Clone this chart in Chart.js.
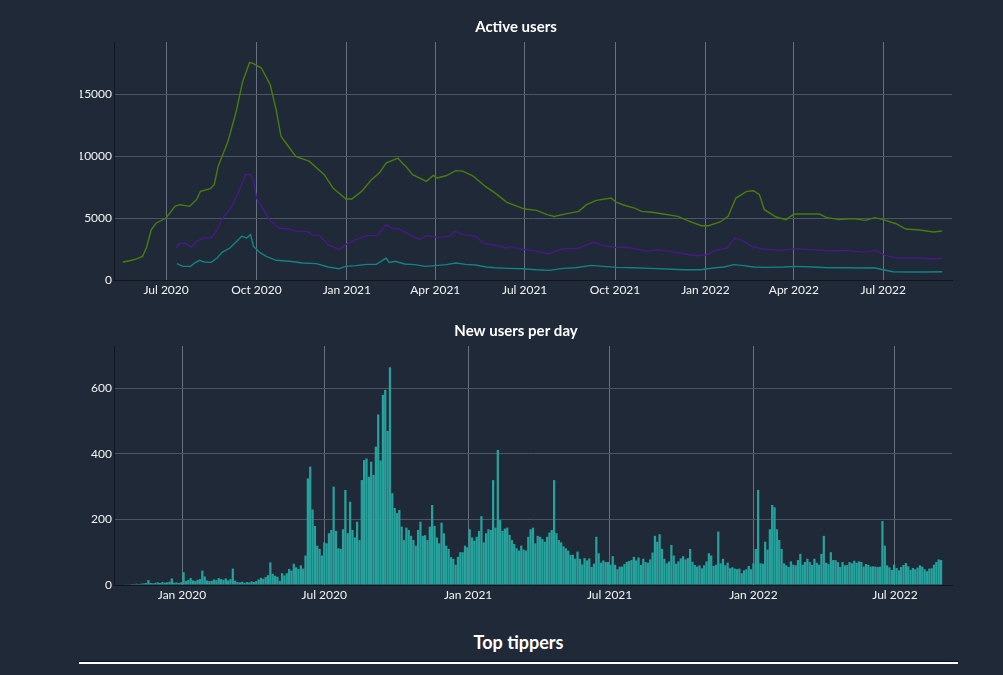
<!DOCTYPE html>
<html>
<head>
<meta charset="utf-8">
<title>Community stats</title>
<script src="https://cdn.jsdelivr.net/npm/chart.js@4.4.1/dist/chart.umd.min.js"></script>
<style>
  html, body {
    margin: 0;
    padding: 0;
    width: 1003px;
    height: 675px;
    overflow: hidden;
    background: #1f2937;
    font-family: Lato, sans-serif;
  }
  .chart-box {
    position: absolute;
    left: 0;
    width: 1003px;
  }
  #activeBox { top: 0; height: 306px; }
  #newBox { top: 304px; height: 307px; }
  #tippersTitle {
    position: absolute;
    top: 630px;
    left: 79px;
    width: 879px;
    text-align: center;
    color: #ffffff;
    font-weight: bold;
    font-size: 18px;
    line-height: 24px;
  }
  #tippersRule {
    position: absolute;
    top: 661px;
    left: 79px;
    width: 879px;
    height: 2px;
    background: #ffffff;
    border-top: 1px solid #0b1020;
  }
</style>
</head>
<body>
<div class="chart-box" id="activeBox"><canvas id="activeChart"></canvas></div>
<div class="chart-box" id="newBox"><canvas id="newChart"></canvas></div>
<div id="tippersTitle">Top tippers</div>
<div id="tippersRule"></div>

<script>
// ---- Active users (three series) ----
const monthlyDates = [
  "2020-05-18", "2020-05-25", "2020-06-01", "2020-06-07", "2020-06-11", "2020-06-16", "2020-06-21",
  "2020-07-01", "2020-07-10", "2020-07-15", "2020-07-25", "2020-08-01", "2020-08-05", "2020-08-15",
  "2020-08-19", "2020-08-23", "2020-09-02", "2020-09-10", "2020-09-17", "2020-09-24", "2020-09-28",
  "2020-10-06", "2020-10-15", "2020-10-21", "2020-10-26", "2020-10-31", "2020-11-10", "2020-11-24",
  "2020-12-09", "2020-12-18", "2020-12-31", "2021-01-06", "2021-01-16", "2021-01-26", "2021-02-03",
  "2021-02-10", "2021-02-22", "2021-02-27", "2021-03-02", "2021-03-09", "2021-03-23", "2021-03-30",
  "2021-04-03", "2021-04-12", "2021-04-22", "2021-04-29", "2021-05-10", "2021-05-22", "2021-05-31",
  "2021-06-13", "2021-07-01", "2021-07-13", "2021-07-24", "2021-07-31", "2021-08-13", "2021-08-25",
  "2021-09-02", "2021-09-12", "2021-09-27", "2021-10-02", "2021-10-12", "2021-10-21", "2021-10-28",
  "2021-11-08", "2021-11-19", "2021-12-04", "2021-12-16", "2021-12-28", "2022-01-04", "2022-01-16",
  "2022-01-24", "2022-02-01", "2022-02-12", "2022-02-19", "2022-02-25", "2022-03-02", "2022-03-14",
  "2022-03-24", "2022-04-01", "2022-04-13", "2022-04-27", "2022-05-04", "2022-05-17", "2022-05-31",
  "2022-06-13", "2022-06-22", "2022-07-01", "2022-07-14", "2022-07-24", "2022-08-07", "2022-08-21",
  "2022-08-30"
];
const monthlyActive = [
  1450, 1550, 1700, 1900, 2600, 4060, 4600,
  5000, 5940, 6075, 5940, 6480, 7150, 7365,
  7690, 9170, 11180, 13470, 16020, 17550, 17450,
  17100, 15750, 13740, 11590, 11050, 9970, 9570,
  8500, 7420, 6530, 6530, 7150, 8090, 8630,
  9430, 9840, 9380, 9170, 8500, 7960, 8440,
  8230, 8410, 8820, 8780, 8360, 7550, 7070,
  6260, 5725, 5620, 5270, 5130, 5350, 5540,
  6075, 6425, 6610, 6290, 5990, 5800, 5540,
  5460, 5320, 5130, 4730, 4380, 4380, 4680,
  5130, 6610, 7150, 7200, 6880, 5670, 5080,
  4870, 5320, 5320, 5320, 5050, 4870, 4950,
  4810, 5030, 4870, 4540, 4110, 4030, 3870,
  3950
];

const weeklyDates = [
  "2020-07-11", "2020-07-15", "2020-07-20", "2020-07-27", "2020-08-01", "2020-08-08", "2020-08-16",
  "2020-08-22", "2020-08-27", "2020-09-06", "2020-09-13", "2020-09-20", "2020-09-25", "2020-09-28",
  "2020-10-01", "2020-10-08", "2020-10-14", "2020-10-24", "2020-11-04", "2020-11-10", "2020-11-21",
  "2020-11-27", "2020-12-04", "2020-12-13", "2020-12-24", "2020-12-31", "2021-01-10", "2021-01-21",
  "2021-02-01", "2021-02-10", "2021-02-16", "2021-02-22", "2021-03-03", "2021-03-16", "2021-03-23",
  "2021-04-05", "2021-04-15", "2021-04-21", "2021-04-30", "2021-05-12", "2021-05-20", "2021-06-01",
  "2021-06-13", "2021-06-18", "2021-06-25", "2021-07-09", "2021-07-25", "2021-08-09", "2021-08-25",
  "2021-09-09", "2021-09-19", "2021-10-03", "2021-10-10", "2021-10-20", "2021-11-01", "2021-11-13",
  "2021-11-26", "2021-12-10", "2021-12-23", "2022-01-02", "2022-01-12", "2022-01-23", "2022-01-31",
  "2022-02-07", "2022-02-17", "2022-03-01", "2022-03-18", "2022-04-03", "2022-04-20", "2022-05-07",
  "2022-05-24", "2022-06-13", "2022-06-23", "2022-07-02", "2022-07-14", "2022-07-27", "2022-08-10",
  "2022-08-20", "2022-08-30"
];
const weeklyActive = [
  2580, 2930, 2980, 2660, 3120, 3390, 3390,
  4060, 4920, 5940, 7150, 8500, 8500, 8090,
  6610, 5670, 4870, 4190, 4110, 3920, 3920,
  3660, 3580, 2850, 2450, 2850, 3250, 3580,
  3600, 4460, 4190, 4140, 3790, 3250, 3580,
  3440, 3520, 3920, 3660, 3520, 2980, 2800,
  2580, 2710, 2500, 2390, 2120, 2500, 2550,
  3060, 2770, 2610, 2660, 2550, 2310, 2450,
  2310, 2120, 1960, 2040, 2390, 2580, 3390,
  3200, 2710, 2500, 2390, 2530, 2450, 2340,
  2390, 2230, 2390, 2020, 1770, 1770, 1770,
  1690, 1750
];

const dailyDates = [
  "2020-07-12", "2020-07-18", "2020-07-26", "2020-07-30", "2020-08-04", "2020-08-09", "2020-08-16",
  "2020-08-22", "2020-08-27", "2020-09-04", "2020-09-11", "2020-09-16", "2020-09-21", "2020-09-25",
  "2020-09-28", "2020-10-05", "2020-10-11", "2020-10-21", "2020-11-04", "2020-11-17", "2020-12-01",
  "2020-12-13", "2020-12-24", "2020-12-31", "2021-01-10", "2021-01-21", "2021-01-31", "2021-02-10",
  "2021-02-13", "2021-02-19", "2021-03-01", "2021-03-11", "2021-03-22", "2021-04-01", "2021-04-12",
  "2021-04-22", "2021-05-02", "2021-05-12", "2021-05-23", "2021-06-01", "2021-06-15", "2021-06-29",
  "2021-07-13", "2021-07-26", "2021-08-09", "2021-08-22", "2021-09-07", "2021-09-19", "2021-10-03",
  "2021-10-20", "2021-11-06", "2021-11-23", "2021-12-10", "2021-12-27", "2022-01-09", "2022-01-20",
  "2022-01-30", "2022-02-09", "2022-02-19", "2022-03-05", "2022-03-22", "2022-04-03", "2022-04-20",
  "2022-05-07", "2022-05-24", "2022-06-10", "2022-06-22", "2022-07-01", "2022-07-11", "2022-07-27",
  "2022-08-13", "2022-08-30"
];
const dailyActive = [
  1320, 1100, 1100, 1370, 1590, 1450, 1420,
  1770, 2230, 2580, 3120, 3520, 3390, 3660,
  2710, 2180, 1910, 1590, 1510, 1370, 1320,
  1050, 910, 1100, 1160, 1260, 1260, 1770,
  1420, 1510, 1290, 1240, 1100, 1160, 1240,
  1370, 1260, 1210, 1050, 990, 940, 910,
  830, 780, 940, 990, 1180, 1100, 1020,
  990, 940, 890, 830, 830, 970, 1050,
  1240, 1160, 1050, 1020, 1050, 1100, 1050,
  990, 990, 970, 990, 830, 670, 650,
  650, 670
];

const activeTickDates = [
  "2020-07-01", "2020-10-01", "2021-01-01", "2021-04-01", "2021-07-01",
  "2021-10-01", "2022-01-01", "2022-04-01", "2022-07-01"
];
const activeYTicks = [0, 5000, 10000, 15000];

// ---- New users per day (one bar every 3 days, starting 2019-10-20) ----
const newUsersStart = "2019-10-20";
const newUsersStepDays = 3;
const newUsers = [
  1, 2, 2, 3, 3, 4, 3, 4, 5, 6,
  15, 6, 5, 7, 8, 6, 9, 7, 8, 10,
  20, 7, 8, 6, 8, 39, 12, 15, 21, 14,
  12, 16, 18, 44, 26, 14, 12, 13, 17, 15,
  21, 18, 16, 20, 14, 18, 50, 13, 9, 8,
  10, 7, 9, 8, 11, 9, 12, 17, 22, 19,
  24, 30, 69, 34, 28, 25, 13, 36, 29, 36,
  49, 44, 65, 54, 49, 60, 50, 90, 325, 361,
  230, 180, 120, 110, 90, 130, 127, 158, 168, 300,
  165, 112, 110, 170, 290, 158, 254, 168, 145, 193,
  137, 320, 381, 386, 330, 376, 336, 422, 520, 380,
  580, 595, 470, 664, 280, 235, 219, 229, 178, 137,
  175, 168, 150, 137, 120, 168, 193, 150, 152, 137,
  178, 244, 180, 145, 127, 190, 158, 120, 110, 85,
  80, 62, 86, 100, 100, 120, 115, 170, 145, 135,
  147, 165, 210, 130, 158, 170, 168, 320, 175, 412,
  198, 165, 172, 175, 153, 137, 125, 112, 105, 120,
  108, 105, 147, 170, 175, 127, 150, 147, 140, 132,
  147, 160, 168, 320, 158, 137, 130, 118, 112, 105,
  92, 92, 80, 102, 80, 63, 82, 75, 81, 55,
  65, 147, 97, 68, 75, 70, 70, 62, 88, 62,
  48, 56, 56, 64, 71, 73, 76, 86, 75, 84,
  61, 80, 70, 68, 78, 99, 150, 132, 155, 110,
  80, 66, 72, 122, 90, 65, 72, 81, 88, 78,
  82, 110, 71, 61, 56, 60, 51, 60, 72, 97,
  90, 58, 62, 163, 66, 80, 60, 68, 51, 54,
  50, 48, 50, 36, 45, 48, 58, 48, 66, 110,
  290, 66, 65, 132, 108, 170, 244, 237, 170, 137,
  110, 66, 60, 55, 72, 62, 60, 76, 95, 62,
  70, 80, 70, 61, 80, 68, 62, 95, 150, 68,
  64, 100, 76, 76, 70, 55, 70, 60, 61, 70,
  66, 74, 68, 72, 70, 56, 64, 61, 56, 57,
  56, 55, 56, 195, 120, 60, 54, 46, 62, 52,
  45, 55, 61, 67, 57, 46, 52, 48, 53, 60,
  56, 48, 42, 50, 51, 62, 70, 78, 76
];

const newUsersTickDates = [
  "2020-01-01", "2020-07-01", "2021-01-01", "2021-07-01", "2022-01-01", "2022-07-01"
];
const newUsersYTicks = [0, 200, 400, 600];

const monthNames = ["Jan", "Feb", "Mar", "Apr", "May", "Jun",
                    "Jul", "Aug", "Sep", "Oct", "Nov", "Dec"];

const DAY = 86400000;

Chart.defaults.font.family = "Lato, sans-serif";
Chart.defaults.font.size = 12;
Chart.defaults.color = "#f3f4f6";

function toTime(dateStr) {
  return Date.parse(dateStr);
}

function formatMonth(value) {
  const d = new Date(value);
  return monthNames[d.getUTCMonth()] + " " + d.getUTCFullYear();
}

function makePoints(dates, values) {
  return dates.map((d, i) => ({ x: toTime(d), y: values[i] }));
}

function makeBarPoints() {
  const start = toTime(newUsersStart);
  return newUsers.map((v, i) => ({ x: start + i * newUsersStepDays * DAY, y: v }));
}

// shared look of both charts, only ranges and ticks differ
function buildScales(xMin, xMax, xTicks, yMax, yTicks) {
  return {
    x: {
      type: "linear",
      min: toTime(xMin),
      max: toTime(xMax),
      offset: false,
      afterBuildTicks: (axis) => {
        axis.ticks = xTicks.map((d) => ({ value: toTime(d) }));
      },
      afterFit: (axis) => {
        axis.height = 26;
      },
      ticks: {
        autoSkip: false,
        maxRotation: 0,
        padding: 3,
        color: "#f3f4f6",
        callback: (value) => formatMonth(value),
      },
      grid: {
        color: "#687180",
        lineWidth: 1,
        drawTicks: false,
        offset: false,
      },
      border: { display: true, color: "#10151d", width: 1 },
    },
    y: {
      min: 0,
      max: yMax,
      afterBuildTicks: (axis) => {
        axis.ticks = yTicks.map((v) => ({ value: v }));
      },
      // layout padding on the left is 80, so the plot edge lands at x=114
      afterFit: (axis) => {
        axis.width = 34;
      },
      ticks: {
        padding: 2,
        color: "#f3f4f6",
        callback: (value) => String(value),
      },
      grid: {
        color: "#4b5563",
        lineWidth: 1,
        drawTicks: false,
      },
      border: { display: true, color: "#10151d", width: 1 },
    },
  };
}

function titleOptions(text) {
  return {
    display: true,
    text: text,
    color: "#ffffff",
    font: { family: "Lato, sans-serif", size: 15, weight: "bold" },
    padding: { top: 18, bottom: 6 },
  };
}

const chartPadding = { left: 80, right: 51, top: 0, bottom: 0 };

function createActiveChart() {
  const ctx = document.getElementById("activeChart");
  new Chart(ctx, {
    type: "line",
    data: {
      datasets: [
        {
          label: "Monthly",
          data: makePoints(monthlyDates, monthlyActive),
          borderColor: "#4b7d0c",
          borderWidth: 1.4,
          pointRadius: 0,
          tension: 0,
          fill: false,
        },
        {
          label: "Weekly",
          data: makePoints(weeklyDates, weeklyActive),
          borderColor: "#471a86",
          borderWidth: 1.4,
          pointRadius: 0,
          tension: 0,
          fill: false,
        },
        {
          label: "Daily",
          data: makePoints(dailyDates, dailyActive),
          borderColor: "#138383",
          borderWidth: 1.4,
          pointRadius: 0,
          tension: 0,
          fill: false,
        },
      ],
    },
    options: {
      responsive: true,
      maintainAspectRatio: false,
      animation: false,
      layout: { padding: chartPadding },
      plugins: {
        legend: { display: false },
        tooltip: { enabled: false },
        title: titleOptions("Active users"),
      },
      scales: buildScales("2020-05-09", "2022-09-09", activeTickDates, 19200, activeYTicks),
    },
  });
}

function createNewUsersChart() {
  const ctx = document.getElementById("newChart");
  new Chart(ctx, {
    type: "bar",
    data: {
      datasets: [
        {
          label: "New users",
          data: makeBarPoints(),
          backgroundColor: "#27a19c",
          borderWidth: 0,
          barPercentage: 0.97,
          categoryPercentage: 1.0,
        },
      ],
    },
    options: {
      responsive: true,
      maintainAspectRatio: false,
      animation: false,
      layout: { padding: chartPadding },
      plugins: {
        legend: { display: false },
        tooltip: { enabled: false },
        title: titleOptions("New users per day"),
      },
      scales: buildScales("2019-10-06", "2022-09-12", newUsersTickDates, 729, newUsersYTicks),
    },
  });
}

createActiveChart();
createNewUsersChart();
</script>
</body>
</html>
